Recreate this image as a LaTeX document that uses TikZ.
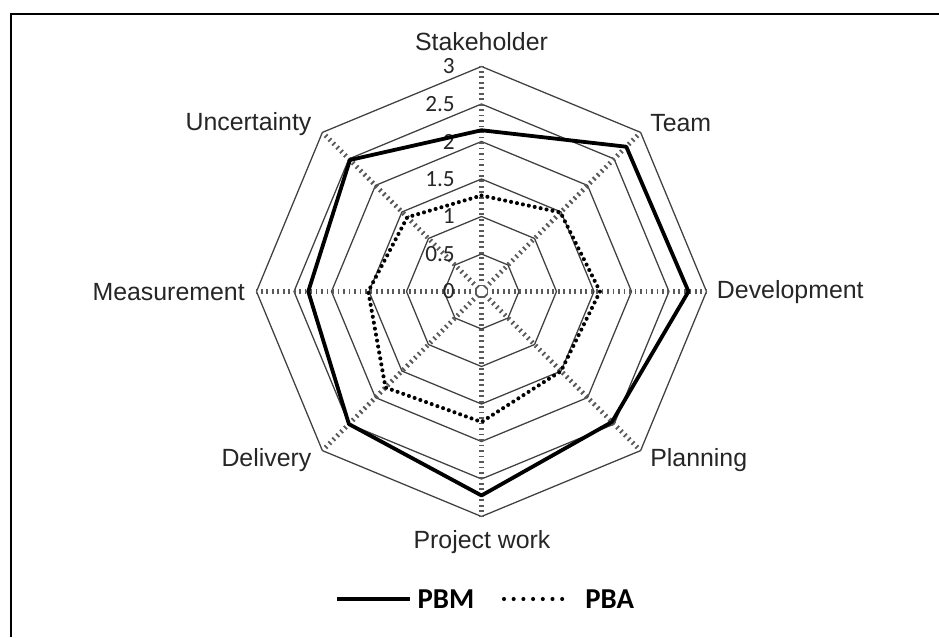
\documentclass[tikz,border=0pt]{standalone}
\usepackage{fontspec}
\setmainfont{Liberation Sans}
\newfontfamily\calibri{Carlito}
\usetikzlibrary{positioning}
\tikzstyle{grid} = [draw=black!75, line width=0.9pt, line join=round]
\tikzstyle{axis} = [draw=black!65, line width=3.4pt, dash pattern=on 1.3pt off 2.6pt]
\tikzstyle{pbm} = [draw=black, line width=2.7pt, line join=round]
\tikzstyle{pba} = [draw=black, line width=2.9pt, line cap=round, dash pattern=on 0pt off 4.3pt]
\tikzstyle{cat} = [inner sep=0pt, text=black!85, font=\fontsize{17.7}{20}\selectfont]
\tikzstyle{tick} = [cat, anchor=east, font=\calibri\fontsize{16.5}{18}\selectfont]
\tikzstyle{key} = [inner sep=0pt, anchor=west, font=\calibri\bfseries\fontsize{20.5}{22}\selectfont]

\begin{document}
\begin{tikzpicture}[x=0.025cm, y=0.025cm]
    \useasboundingbox (-481.5,-345.5) rectangle (457.5,291.5);
    \fill[white] (-481.5,-345.5) rectangle (457.5,291.5);
    \draw[line width=1.5pt] (-470.5,-345.5) -- (-470.5,277.5) -- (457.5,277.5);
    % grid
    \foreach \r in {37.5,75,112.5,150,187.5,225}
        \draw[grid] (90:\r) -- (45:\r) -- (0:\r) -- (-45:\r) -- (-90:\r) -- (-135:\r) -- (180:\r) -- (135:\r) -- cycle;
    \foreach \a in {0,45,...,315}
        \draw[axis] (\a:5) -- (\a:225);
    \foreach \t [count=\i] in {0,0.5,1,1.5,2,2.5,3}
        \node[tick] (t\i) at (-26.5,\t*75) {\t};
    % categories
    \node[cat] (stake) at (0,249.5) {Stakeholder};
    \node[cat, anchor=west] (team) at (168.5,168.5) {Team};
    \node[cat, anchor=west] (dev) at (235.2,-0.5) {Development};
    \node[cat, anchor=west] (plan) at (168.5,-168.5) {Planning};
    \node[cat] (work) at (0.5,-250.2) {Project work};
    \node[cat, anchor=east] (deliv) at (-169.8,-168.5) {Delivery};
    \node[cat, anchor=east] (meas) at (-236.5,-0.8) {Measurement};
    \node[cat, anchor=east] (uncert) at (-169.8,167.5) {Uncertainty};
    % data
    \foreach \v [count=\i] in {2.15,2.73,2.76,2.46,2.72,2.5,2.31,2.48}
        \coordinate (pbm\i) at ({135-45*\i}:\v*75);
    \foreach \v [count=\i] in {1.28,1.49,1.58,1.5,1.74,1.81,1.51,1.4}
        \coordinate (pba\i) at ({135-45*\i}:\v*75);
    \draw[pba] (pba1) -- (pba2) -- (pba3) -- (pba4) -- (pba5) -- (pba6) -- (pba7) -- (pba8) -- cycle;
    \draw[pbm] (pbm1) -- (pbm2) -- (pbm3) -- (pbm4) -- (pbm5) -- (pbm6) -- (pbm7) -- (pbm8) -- cycle;
    % legend
    \node[key] (pbmkey) at (-64.2,-307.5) {PBM};
    \node[key] (pbakey) at (103.5,-307.5) {PBA};
    \coordinate[left=2.015cm of pbmkey.west] (pbmstart);
    \coordinate[left=2.025cm of pbakey.west] (pbastart);
    \draw[pbm, shorten >=0.18cm] (pbmstart) -- (pbmkey.west);
    \draw[pba, dash pattern=on 0pt off 6.9pt, shorten >=0.33cm] (pbastart) -- (pbakey.west);
\end{tikzpicture}
\end{document}
